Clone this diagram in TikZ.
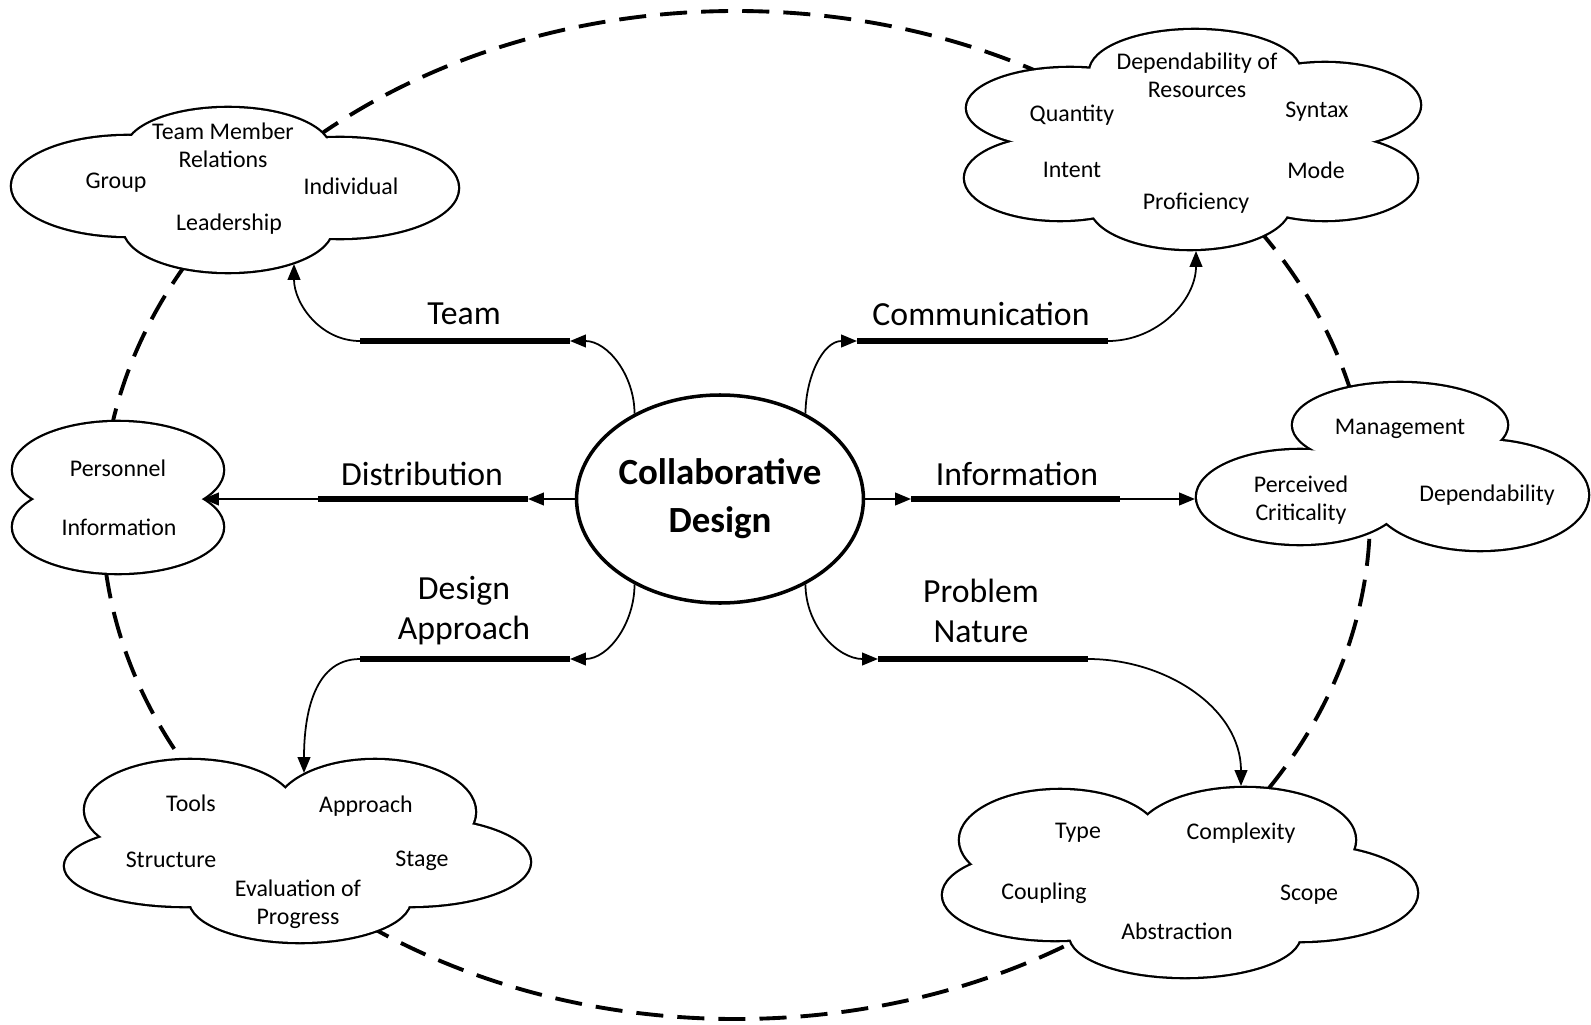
\documentclass[tikz,border=0pt]{standalone}
\usepackage{fontspec}
\setmainfont{Carlito}
\usepackage{tikz}
\usetikzlibrary{arrows.meta, shapes.geometric}

% a cloud is a union of lobes: thick outlines first, then white fills on top
\newcommand{\puffcloud}[1]{%
  \foreach \x/\y/\a/\b in {#1} \draw[line width=1.3pt] (\x,\y) ellipse ({\a} and {\b});
  \foreach \x/\y/\a/\b in {#1} \fill[white] (\x,\y) ellipse ({\a} and {\b});
}

\begin{document}
\begin{tikzpicture}[>={Triangle[length=4.5pt,width=3.6pt]},
  hub/.style={draw, ellipse, fill=white, line width=1pt, minimum width=2.8cm,
    minimum height=2.08cm, inner sep=0pt, align=center,
    font=\fontsize{10.5}{13.7}\selectfont\bfseries},
  branch/.style={align=center, font=\fontsize{9.6}{11.4}\selectfont},
  item/.style={align=center, font=\fontsize{6.8}{8}\selectfont},
  bar/.style={line width=1.7pt},
  link/.style={->, line width=0.5pt}]

  \useasboundingbox (0,0) rectangle (15.91,10.24);

  % outer dashed ring
  \draw[line width=1.1pt, dash pattern=on 7.7pt off 4pt] (7.36,5.09) ellipse (6.34 and 5.04);

  % clouds
  \puffcloud{1.28/8.38/1.16/0.50, 3.40/8.36/1.18/0.50, 2.28/8.74/1.02/0.42, 2.28/7.96/1.04/0.44}
  \puffcloud{11.95/9.52/1.05/0.42, 10.70/9.16/1.03/0.40, 10.60/8.46/0.95/0.42,
    11.90/8.19/1.00/0.44, 13.25/8.46/0.92/0.42, 13.25/9.19/0.95/0.42, 11.95/8.84/1.40/0.55}
  \puffcloud{1.18/5.54/1.05/0.48, 1.18/4.97/1.05/0.46}
  \puffcloud{14.00/5.99/1.07/0.42, 13.00/5.27/1.03/0.47, 14.80/5.29/1.08/0.55,
    13.90/5.44/0.60/0.30}
  \puffcloud{1.90/2.14/1.05/0.50, 3.75/2.12/1.00/0.52, 1.85/1.58/1.20/0.40,
    4.10/1.62/1.20/0.44, 3.00/1.24/1.10/0.42, 3.00/1.69/1.30/0.50}
  \puffcloud{10.60/1.84/1.00/0.50, 12.45/1.84/1.10/0.52, 10.55/1.29/1.12/0.45,
    13.00/1.31/1.17/0.48, 11.85/0.89/1.15/0.42, 11.85/1.54/1.40/0.50}

  % cloud contents
  \node[item] (tmr) at (2.23,8.785) {Team Member\\Relations};
  \node[item] (grp) at (1.16,8.41) {Group};
  \node[item] (ind) at (3.51,8.38) {Individual};
  \node[item] (lead) at (2.29,8.00) {Leadership};

  \node[item] (dor) at (11.97,9.485) {Dependability of\\Resources};
  \node[item] (qty) at (10.72,9.09) {Quantity};
  \node[item] (syn) at (13.17,9.12) {Syntax};
  \node[item] (intent) at (10.72,8.54) {Intent};
  \node[item] (mode) at (13.16,8.54) {Mode};
  \node[item] (prof) at (11.96,8.21) {Proficiency};

  \node[item] (pers) at (1.18,5.56) {Personnel};
  \node[item] (pinf) at (1.19,4.97) {Information};

  \node[item] (mgmt) at (14.00,5.95) {Management};
  \node[item] (crit) at (13.01,5.24) {Perceived\\Criticality};
  \node[item] (dep) at (14.87,5.29) {Dependability};

  \node[item] (tools) at (1.91,2.21) {Tools};
  \node[item] (appr) at (3.66,2.18) {Approach};
  \node[item] (struct) at (1.71,1.64) {Structure};
  \node[item] (stage) at (4.22,1.63) {Stage};
  \node[item] (evp) at (2.98,1.20) {Evaluation of\\Progress};

  \node[item] (type) at (10.78,1.91) {Type};
  \node[item] (cplx) at (12.41,1.91) {Complexity};
  \node[item] (coup) at (10.44,1.31) {Coupling};
  \node[item] (scope) at (13.09,1.29) {Scope};
  \node[item] (abst) at (11.77,0.93) {Abstraction};

  % centre
  \node[hub] (cd) at (7.20,5.25) {Collaborative\\Design};

  % branch bars
  \coordinate (teamL) at (3.60,6.83);  \coordinate (teamR) at (5.70,6.83);
  \coordinate (commL) at (8.57,6.83);  \coordinate (commR) at (11.08,6.83);
  \coordinate (distL) at (3.18,5.25);  \coordinate (distR) at (5.28,5.25);
  \coordinate (infoL) at (9.11,5.25);  \coordinate (infoR) at (11.20,5.25);
  \coordinate (apprL) at (3.60,3.65);  \coordinate (apprR) at (5.70,3.65);
  \coordinate (probL) at (8.78,3.65);  \coordinate (probR) at (10.88,3.65);

  \draw[bar] (teamL) -- (teamR);
  \draw[bar] (commL) -- (commR);
  \draw[bar] (distL) -- (distR);
  \draw[bar] (infoL) -- (infoR);
  \draw[bar] (apprL) -- (apprR);
  \draw[bar] (probL) -- (probR);

  \node[branch] (lteam) at (4.64,7.10) {Team};
  \node[branch] (lcomm) at (9.81,7.10) {Communication};
  \node[branch] (ldist) at (4.22,5.50) {Distribution};
  \node[branch] (linfo) at (10.17,5.50) {Information};
  \node[branch] (lappr) at (4.64,4.13) {Design\\Approach};
  \node[branch] (lprob) at (9.81,4.13) {Problem\\Nature};

  % where the arrows meet the clouds
  \coordinate (teamin) at (2.94,7.60);
  \coordinate (commin) at (11.96,7.73);
  \coordinate (distin) at (2.03,5.25);
  \coordinate (infoin) at (11.95,5.25);
  \coordinate (apprin) at (3.04,2.51);
  \coordinate (probin) at (12.41,2.38);

  \draw[link] (cd.135) to[out=90,in=0] (teamR);
  \draw[link] (teamL) to[out=180,in=-90] (teamin);
  \draw[link] (cd.45) to[out=90,in=180] (commL);
  \draw[link] (commR) to[out=0,in=-90] (commin);
  \draw[link] (cd.west) -- (distR);
  \draw[link] (distL) -- (distin);
  \draw[link] (cd.east) -- (infoL);
  \draw[link] (infoR) -- (infoin);
  \draw[link] (cd.225) to[out=-90,in=0] (apprR);
  \draw[link] (apprL) to[out=180,in=90] (apprin);
  \draw[link] (cd.-45) to[out=-90,in=180] (probL);
  \draw[link] (probR) to[out=0,in=90] (probin);
\end{tikzpicture}
\end{document}
